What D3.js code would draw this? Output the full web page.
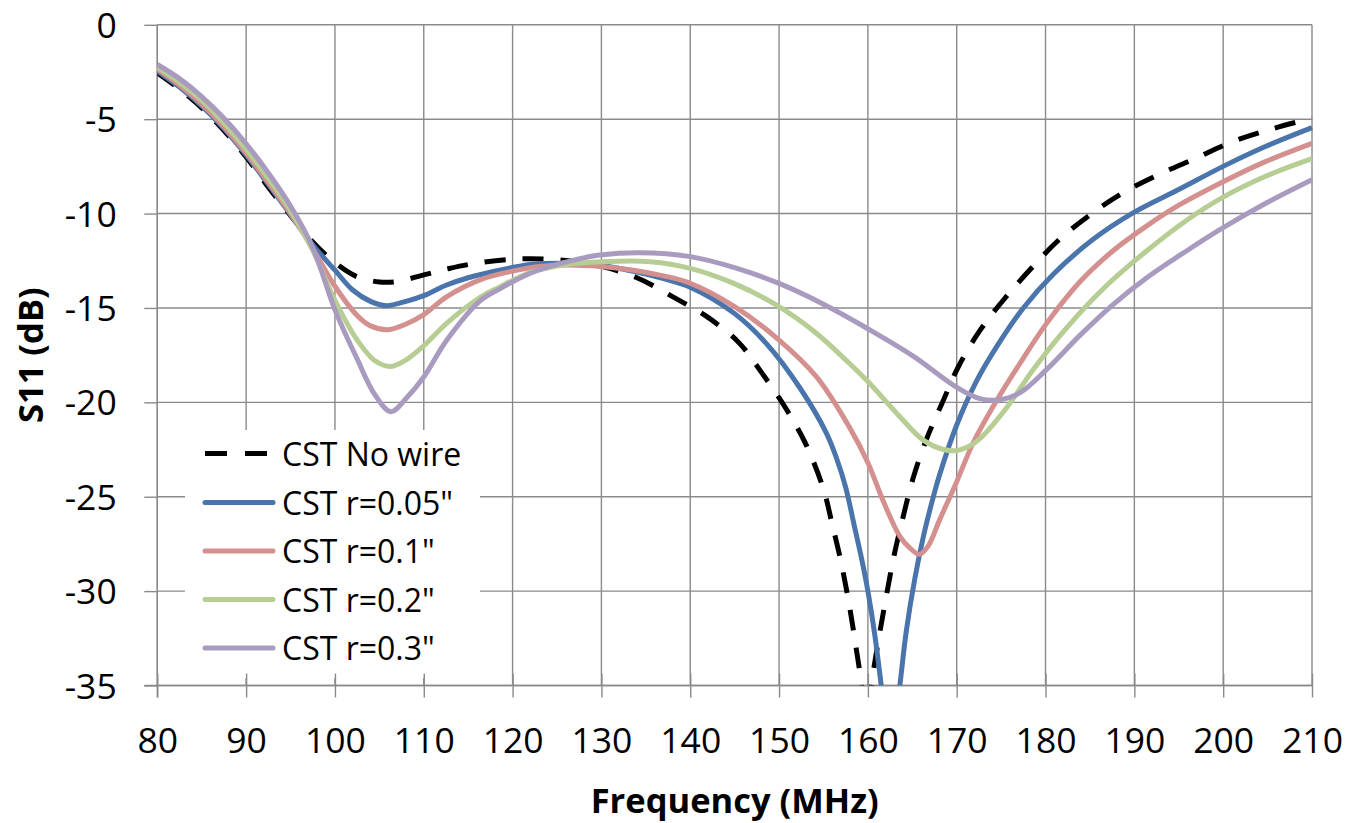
<!DOCTYPE html>
<html>
<head>
<meta charset="utf-8">
<script src="https://cdn.jsdelivr.net/npm/d3@7"></script>
<style>
  html, body { margin: 0; padding: 0; background: #fff; }
  svg { display: block; font-family: "Open Sans", "Noto Sans", sans-serif; }
</style>
</head>
<body>
<svg id="chart" width="1361" height="823"></svg>
<script>
// Axis ticks
const xTicks = [80, 90, 100, 110, 120, 130, 140, 150, 160, 170, 180, 190, 200, 210];
const yTicks = [0, -5, -10, -15, -20, -25, -30, -35];

// S11 sweeps (frequency in MHz, S11 in dB)
const noWireF = [80, 82.5, 85, 87.5, 90, 92.5, 95, 97.5, 100, 102.5, 105, 107, 110, 112.5, 115, 120, 125, 130, 134, 138, 142, 145.5, 148, 151, 153, 155, 156, 157, 158, 159, 159.85, 160.7, 161.3, 162.1, 163, 164, 165.1, 166.6, 168.4, 170.2, 172.6, 175.4, 178.4, 181.6, 185.2, 188.9, 192.9, 197, 201, 205.6, 210];
const noWireS = [-2.55, -3.4, -4.4, -5.6, -7.0, -8.6, -10.1, -11.5, -12.6, -13.35, -13.62, -13.6, -13.25, -12.95, -12.7, -12.42, -12.45, -12.8, -13.4, -14.4, -15.5, -16.85, -18.4, -20.5, -22.2, -24.6, -26.5, -28.5, -31.0, -34.0, -36.5, -34.0, -32.3, -30.2, -28.0, -26.0, -24.0, -21.95, -20.0, -18.1, -16.2, -14.5, -12.9, -11.35, -10.0, -8.85, -7.9, -7.05, -6.2, -5.5, -4.95];

const r005F = [80, 82.5, 85, 87.5, 90, 92.5, 95, 97.5, 100, 102, 104, 105.8, 108, 110, 112.5, 115, 118.5, 122, 126, 130, 133.5, 137, 140, 145, 148.6, 152.3, 155.3, 156.5, 157.5, 158.5, 159.3, 160, 160.8, 161.5, 162.5, 163.6, 164.3, 165.3, 166.3, 167.2, 168.1, 170, 172.2, 174.5, 177.5, 180.9, 185.4, 189.9, 195.1, 200, 204.5, 210];
const r005S = [-2.45, -3.3, -4.3, -5.5, -6.9, -8.45, -10.05, -11.65, -13.0, -14.05, -14.65, -14.88, -14.65, -14.35, -13.8, -13.4, -13.0, -12.7, -12.63, -12.75, -13.05, -13.45, -13.9, -15.3, -16.9, -19.2, -21.6, -23.0, -24.5, -26.6, -28.3, -30.0, -32.4, -35.0, -39.0, -35.0, -32.2, -29.3, -27.0, -25.3, -23.8, -21.2, -18.9, -17.05, -15.0, -13.2, -11.35, -9.95, -8.7, -7.5, -6.5, -5.45];

const r01F = [80, 82.5, 85, 87.5, 90, 92.5, 95, 97.5, 100, 102.5, 104, 106, 108, 110, 112.6, 116.4, 120, 123, 126, 130, 133.6, 137, 140, 145, 150, 154.2, 157.9, 160, 161.7, 163.6, 164.8, 165.8, 166.8, 168.1, 170, 171.9, 174.5, 177.5, 180.1, 183.9, 187.6, 191.4, 195.1, 200, 204.5, 210];
const r01S = [-2.35, -3.2, -4.2, -5.4, -6.8, -8.35, -10.0, -11.85, -13.85, -15.4, -15.95, -16.15, -15.85, -15.35, -14.4, -13.5, -13.05, -12.8, -12.72, -12.8, -13.0, -13.3, -13.69, -14.93, -16.7, -18.64, -21.3, -23.2, -25.2, -27.1, -27.75, -28.05, -27.6, -26.2, -24.2, -22.1, -19.9, -17.66, -15.83, -13.6, -11.97, -10.65, -9.53, -8.31, -7.3, -6.28];

const r02F = [80, 82.5, 85, 87.5, 90, 92.5, 95, 97.5, 100, 102.5, 104.5, 106.3, 108, 110, 112.6, 116.4, 118.5, 121.8, 124.2, 127, 130, 135.5, 140, 144.9, 150, 154.2, 157.9, 160, 163.6, 166.2, 168.5, 170, 171.5, 172.6, 175.6, 178.6, 182.4, 186.9, 191.4, 195.9, 200, 204.9, 210];
const r02S = [-2.25, -3.05, -4.0, -5.2, -6.6, -8.15, -9.85, -11.95, -14.6, -16.7, -17.8, -18.1, -17.75, -17.0, -15.8, -14.42, -13.9, -13.15, -12.85, -12.65, -12.55, -12.55, -12.9, -13.7, -14.93, -16.34, -17.93, -18.9, -20.76, -21.99, -22.5, -22.55, -22.3, -21.93, -20.3, -18.27, -16.04, -13.8, -11.97, -10.35, -9.13, -8.0, -7.09];

const r03F = [80, 82.5, 85, 87.5, 90, 92.5, 95, 97.5, 100, 102.5, 104.5, 106.3, 108, 110, 112.6, 116.4, 118.5, 121.8, 124.2, 127, 129.8, 134.3, 140, 144.9, 150, 155, 160, 165.1, 170, 172.6, 174.9, 177.1, 180.1, 183.9, 187.6, 191.4, 195.9, 200, 204.9, 210];
const r03S = [-2.1, -2.85, -3.8, -4.95, -6.3, -7.85, -9.6, -11.8, -15.1, -17.7, -19.6, -20.5, -19.8, -18.66, -16.7, -14.6, -14.0, -13.2, -12.8, -12.45, -12.2, -12.07, -12.28, -12.85, -13.7, -14.8, -16.1, -17.55, -19.2, -19.8, -19.86, -19.5, -18.27, -16.44, -14.82, -13.4, -11.97, -10.75, -9.43, -8.21];

const seriesNames = ["CST No wire", "CST r=0.05\"", "CST r=0.1\"", "CST r=0.2\"", "CST r=0.3\""];
const seriesColors = ["#000000", "#4A74AC", "#D4908E", "#B6CD93", "#A99ABF"];

const series = [
  { name: seriesNames[0], f: noWireF, s: noWireS, color: seriesColors[0], dash: "21,17" },
  { name: seriesNames[1], f: r005F, s: r005S, color: seriesColors[1], dash: null },
  { name: seriesNames[2], f: r01F, s: r01S, color: seriesColors[2], dash: null },
  { name: seriesNames[3], f: r02F, s: r02S, color: seriesColors[3], dash: null },
  { name: seriesNames[4], f: r03F, s: r03S, color: seriesColors[4], dash: null }
];

const svg = d3.select("#chart");
const plotL = 157.3, plotR = 1312, plotT = 24.8, plotB = 685.5;

const x = d3.scaleLinear().domain([80, 210]).range([plotL, plotR]);
const y = d3.scaleLinear().domain([0, -35]).range([plotT, plotB]);

const gridColor = "#8a8a8a";

// Gridlines
const grid = svg.append("g");
grid.selectAll("line.v").data(xTicks).join("line")
  .attr("class", "v")
  .attr("x1", d => x(d)).attr("x2", d => x(d))
  .attr("y1", plotT).attr("y2", plotB)
  .attr("stroke", gridColor).attr("stroke-width", 1.4);
grid.selectAll("line.h").data(yTicks).join("line")
  .attr("class", "h")
  .attr("x1", plotL).attr("x2", plotR)
  .attr("y1", d => y(d)).attr("y2", d => y(d))
  .attr("stroke", gridColor).attr("stroke-width", 1.4);

// Legend background
const legend = svg.append("g");
legend.append("rect")
  .attr("x", 185).attr("y", 430).attr("width", 295).attr("height", 248)
  .attr("fill", "#fff");

// Axes
const xAxis = svg.append("g")
  .attr("transform", `translate(0,${plotB})`)
  .call(d3.axisBottom(x).tickValues(xTicks).tickSize(12).tickFormat(d => String(d)));
xAxis.select(".domain").remove();
xAxis.selectAll(".tick line").attr("y1", -12).attr("stroke", gridColor).attr("stroke-width", 1.4);
xAxis.selectAll(".tick text")
  .attr("y", 67.5).attr("dy", null)
  .attr("font-size", 35.5).attr("font-family", "Open Sans").attr("fill", "#000");

const yAxis = svg.append("g")
  .attr("transform", `translate(${plotL},0)`)
  .call(d3.axisLeft(y).tickValues(yTicks).tickSize(13).tickFormat(d => String(d)));
yAxis.select(".domain").remove();
yAxis.selectAll(".tick line").attr("stroke", gridColor).attr("stroke-width", 1.4);
yAxis.selectAll(".tick text")
  .attr("x", -40.6).attr("y", 12.6).attr("dy", null)
  .attr("font-size", 35.5).attr("font-family", "Open Sans").attr("fill", "#000");

svg.append("line").attr("x1", plotL).attr("x2", plotL).attr("y1", plotT).attr("y2", plotB + 12)
  .attr("stroke", gridColor).attr("stroke-width", 1.4);
svg.append("line").attr("x1", plotL - 13).attr("x2", plotR).attr("y1", plotB).attr("y2", plotB)
  .attr("stroke", gridColor).attr("stroke-width", 1.4);

// Data lines, clipped to the plot area
svg.append("clipPath").attr("id", "plotClip")
  .append("rect").attr("x", plotL).attr("y", plotT - 5).attr("width", plotR - plotL + 5).attr("height", plotB - plotT + 5);

const line = d3.line()
  .x(d => x(d[0]))
  .y(d => y(d[1]))
  .curve(d3.curveCatmullRom.alpha(0.5));

const lines = svg.append("g").attr("clip-path", "url(#plotClip)");
series.forEach(sr => {
  const pts = sr.f.map((f, i) => [f, sr.s[i]]);
  lines.append("path")
    .attr("d", line(pts))
    .attr("fill", "none")
    .attr("stroke", sr.color)
    .attr("stroke-width", 5)
    .attr("stroke-linejoin", "round")
    .attr("stroke-dasharray", sr.dash);
});

// Legend entries
const legendY = [453.5, 502.5, 551, 599.5, 648];
series.forEach((sr, i) => {
  legend.append("line")
    .attr("x1", 205).attr("x2", 273)
    .attr("y1", legendY[i]).attr("y2", legendY[i])
    .attr("stroke", sr.color).attr("stroke-width", 5)
    .attr("stroke-linecap", sr.dash ? "butt" : "round")
    .attr("stroke-dasharray", sr.dash ? "22,18" : null);
  legend.append("text")
    .attr("x", 282).attr("y", legendY[i] + 12.2)
    .attr("font-size", 32).attr("fill", "#000")
    .text(sr.name);
});

// Axis titles
svg.append("text")
  .attr("x", (plotL + plotR) / 2).attr("y", 813)
  .attr("text-anchor", "middle").attr("font-weight", "bold")
  .attr("font-size", 34.5).attr("fill", "#000")
  .text("Frequency (MHz)");

svg.append("text")
  .attr("transform", `translate(43,${(plotT + plotB) / 2}) rotate(-90)`)
  .attr("text-anchor", "middle").attr("font-weight", "bold")
  .attr("font-size", 34.5).attr("fill", "#000")
  .text("S11 (dB)");
</script>
</body>
</html>
